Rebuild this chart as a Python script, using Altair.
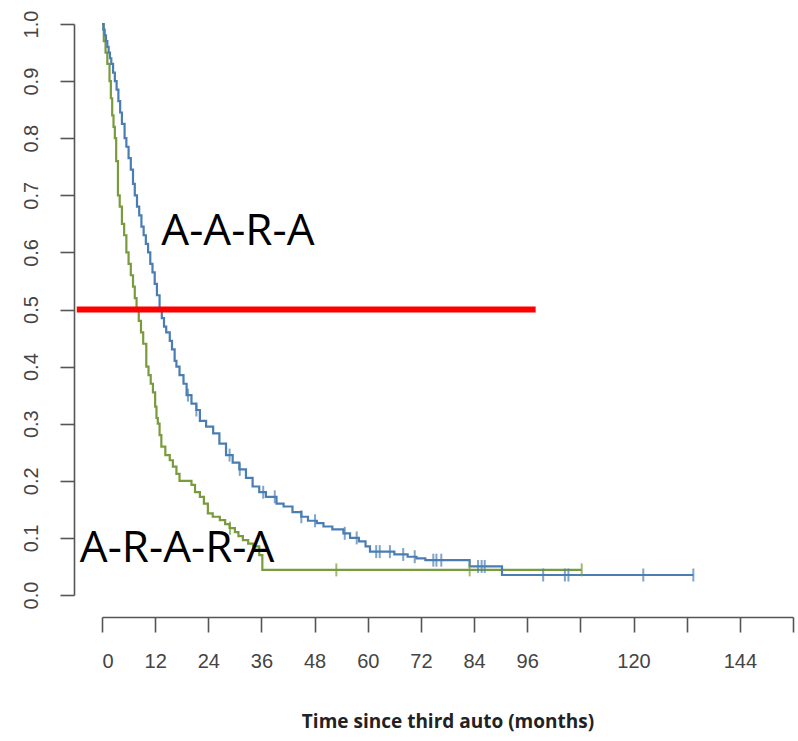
import altair as alt
import numpy as np
import pandas as pd

# Kaplan-Meier estimates: event times (months) and survival after each step
blue_t = [0, 0.3, 0.6, 0.9, 1.2, 1.5, 1.8, 2.1, 2.5, 2.9, 3.3, 3.7, 4.1, 4.5, 5.1,
          5.5, 6.0, 6.5, 7.0, 7.4, 7.9, 8.4, 8.9, 9.4, 9.9, 10.4, 10.9, 11.4, 11.9,
          12.4, 13.0, 13.5, 14.0, 14.5, 15.3, 15.8, 16.4, 16.8, 17.5, 18.4, 19.1,
          20.2, 21.3, 22.1, 23.5, 25.1, 26.5, 28.0, 29.5, 31.0, 32.5, 34.0, 35.5,
          37.0, 39.4, 41.0, 43.0, 45.0, 46.5, 48.5, 50.0, 52.0, 54.5, 56.0, 58.0,
          59.5, 60.5, 66.0, 69.0, 71.0, 73.0, 83.0, 90.3, 133.5]
blue_s = [1.0, 0.99, 0.98, 0.97, 0.96, 0.95, 0.94, 0.93, 0.915, 0.90, 0.885, 0.865,
          0.845, 0.825, 0.80, 0.785, 0.765, 0.745, 0.72, 0.70, 0.68, 0.665, 0.645,
          0.63, 0.615, 0.60, 0.58, 0.565, 0.545, 0.525, 0.50, 0.485, 0.47, 0.46,
          0.445, 0.43, 0.41, 0.40, 0.385, 0.37, 0.35, 0.335, 0.324, 0.305, 0.295,
          0.283, 0.265, 0.245, 0.232, 0.22, 0.205, 0.19, 0.18, 0.172, 0.16, 0.155,
          0.145, 0.137, 0.13, 0.126, 0.12, 0.115, 0.108, 0.10, 0.094, 0.085, 0.076,
          0.071, 0.067, 0.064, 0.061, 0.050, 0.035, 0.035]
blue_cens = [19.4, 21.3, 28.8, 31.1, 36.4, 39.0, 45.0, 48.1, 54.8, 57.5, 61.9, 62.7,
             65.0, 68.0, 70.6, 74.8, 75.5, 76.6, 84.9, 85.7, 86.4, 99.6, 104.5,
             105.3, 122.2, 133.5]

green_t = [0, 0.4, 0.8, 1.2, 1.7, 2.0, 2.3, 2.6, 2.9, 3.2, 3.6, 4.0, 4.5, 5.0, 5.5,
           6.0, 6.5, 7.0, 7.4, 7.8, 8.3, 8.8, 9.3, 10.0, 10.5, 11.0, 11.5, 12.0,
           12.3, 12.6, 13.0, 13.4, 14.3, 15.3, 16.0, 16.8, 17.5, 20.2, 21.0, 22.1,
           23.0, 23.9, 25.0, 26.6, 27.8, 28.8, 30.0, 30.8, 31.8, 33.0, 34.1, 35.5,
           36.2, 108.3]
green_s = [1.0, 0.97, 0.95, 0.93, 0.90, 0.87, 0.84, 0.82, 0.80, 0.76, 0.70, 0.68,
           0.65, 0.63, 0.60, 0.58, 0.56, 0.54, 0.52, 0.50, 0.48, 0.46, 0.44, 0.40,
           0.385, 0.37, 0.355, 0.33, 0.31, 0.30, 0.28, 0.26, 0.245, 0.236, 0.225,
           0.212, 0.20, 0.193, 0.18, 0.172, 0.16, 0.143, 0.137, 0.131, 0.124, 0.117,
           0.11, 0.103, 0.096, 0.09, 0.085, 0.07, 0.044, 0.044]
green_cens = [28.9, 52.9, 83.0, 108.3]

x_ticks = [0, 12, 24, 36, 48, 60, 72, 84, 96, 108, 120, 132, 144, 156]
x_unlabeled = [108, 132, 156]
y_ticks = [0.0, 0.1, 0.2, 0.3, 0.4, 0.5, 0.6, 0.7, 0.8, 0.9, 1.0]

median_line = {"t": -5.7, "t2": 97.9, "s": 0.5}
group_labels = ["A-A-R-A", "A-R-A-R-A"]
label_t = [13.4, -5.0]
label_s = [0.636, 0.081]

BLUE = "#4a7db3"
GREEN = "#7a9b3c"


def surv_at(times, surv, t):
    i = np.searchsorted(times, t, side="right") - 1
    return surv[max(i, 0)]


blue_df = pd.DataFrame({"t": blue_t, "s": blue_s})
green_df = pd.DataFrame({"t": green_t, "s": green_s})
blue_c = pd.DataFrame({"t": blue_cens,
                       "s": [surv_at(blue_t, blue_s, c) for c in blue_cens]})
green_c = pd.DataFrame({"t": green_cens,
                        "s": [surv_at(green_t, green_s, c) for c in green_cens]})
rule_df = pd.DataFrame([median_line])
text_df = pd.DataFrame({"t": label_t, "s": label_s, "label": group_labels})

x_scale = alt.Scale(domain=[0, 156], nice=False, zero=False)
y_scale = alt.Scale(domain=[0, 1], nice=False)

hide = " || ".join(f"datum.value == {v}" for v in x_unlabeled)
x_axis = alt.Axis(
    values=x_ticks, offset=22, tickSize=15, tickWidth=1.6, domainWidth=1.6,
    domainColor="#555555", tickColor="#555555", grid=False,
    labelFont="Liberation Sans", labelFontSize=20, labelColor="#444444",
    labelPadding=19, labelExpr=f"({hide}) ? '' : datum.label",
    title="Time since third auto (months)", titleFont="Open Sans",
    titleFontSize=19, titleFontWeight="bold", titleColor="#222222",
    titlePadding=41,
)
y_axis = alt.Axis(
    values=y_ticks, format=".1f", offset=28, tickSize=14, tickWidth=1.6,
    domainWidth=1.6, domainColor="#555555", tickColor="#555555", grid=False,
    labelFont="Liberation Sans", labelFontSize=20, labelColor="#444444",
    labelAngle=-90, labelAlign="center", labelBaseline="bottom",
    labelPadding=19, title=None,
)

X = alt.X("t:Q", scale=x_scale, axis=x_axis)
Y = alt.Y("s:Q", scale=y_scale, axis=y_axis)

green_line = alt.Chart(green_df).mark_line(
    interpolate="step-after", color=GREEN, strokeWidth=2.2
).encode(x=X, y=Y)
blue_line = alt.Chart(blue_df).mark_line(
    interpolate="step-after", color=BLUE, strokeWidth=2.2
).encode(x=X, y=Y)
green_ticks = alt.Chart(green_c).mark_tick(
    orient="vertical", color=GREEN, size=13, thickness=2
).encode(x=X, y=Y)
blue_ticks = alt.Chart(blue_c).mark_tick(
    orient="vertical", color=BLUE, size=13, thickness=2
).encode(x=X, y=Y)
median = alt.Chart(rule_df).mark_rule(
    color="#ff0000", strokeWidth=6
).encode(x=X, x2="t2:Q", y=Y)
labels = alt.Chart(text_df).mark_text(
    align="left", baseline="middle", font="Open Sans", fontSize=44, color="#000000"
).encode(x=X, y=Y, text="label:N")

chart = alt.layer(
    green_line, blue_line, green_ticks, blue_ticks, median, labels
).properties(
    width=691, height=571, autosize="none",
    padding={"left": 102, "top": 24, "right": 5, "bottom": 146},
    background="white",
).configure_view(stroke=None)

chart.save("out.html", embed_options={"renderer": "svg", "actions": False})
